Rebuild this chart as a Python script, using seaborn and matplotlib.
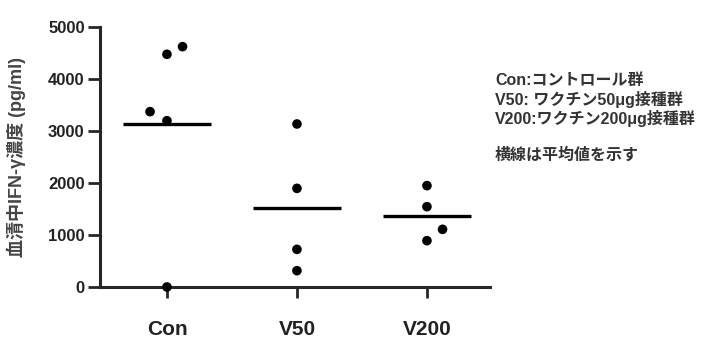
import pandas as pd
import matplotlib
matplotlib.use('Agg')
import matplotlib.pyplot as plt
import seaborn as sns

groups = ['Con', 'V50', 'V200']
con_vals = [4475, 4622, 3372, 3198, 0]
v50_vals = [3135, 1897, 724, 314]
v200_vals = [1949, 1545, 1109, 891]
# sideways spread of dots that would overlap
con_shift = [0, 0.12, -0.13, 0, 0]
v50_shift = [0, 0, 0, 0]
v200_shift = [0, 0, 0.12, 0]

yticks = [0, 1000, 2000, 3000, 4000, 5000]
ylabel = '血清中IFN-γ濃度 (pg/ml)'
notes = ['Con:コントロール群',
         'V50: ワクチン50μg接種群',
         'V200:ワクチン200μg接種群',
         '横線は平均値を示す']

rows = []
for i, (vals, shifts) in enumerate(zip([con_vals, v50_vals, v200_vals],
                                       [con_shift, v50_shift, v200_shift])):
    for v, s in zip(vals, shifts):
        rows.append({'group': groups[i], 'pos': i + s, 'value': v})
df = pd.DataFrame(rows)

sns.set_style('ticks')
plt.rcParams['font.family'] = ['Liberation Sans', 'Noto Sans CJK JP', 'DejaVu Sans']

fig = plt.figure(figsize=(7.21, 3.43), dpi=100)
ax = fig.add_axes([100/721, 56/343, 390/721, 260/343])

sns.scatterplot(data=df, x='pos', y='value', color='black', s=48,
                edgecolor='none', ax=ax, clip_on=False, zorder=3)

means = df.groupby('group', sort=False)['value'].mean()
for i, g in enumerate(groups):
    ax.hlines(means[g], i - 0.34, i + 0.34, color='black', lw=2.4)

ax.set_xlim(-0.515, 2.485)
ax.set_ylim(0, 5000)
ax.set_xticks(range(len(groups)))
ax.set_xticklabels(groups, fontsize=15, fontweight='bold', color='#222222')
ax.set_yticks(yticks)
ax.set_yticklabels([str(t) for t in yticks], fontsize=12, fontweight='bold',
                   color='#222222')
ax.tick_params(axis='x', length=8, width=2, pad=16)
ax.tick_params(axis='y', length=9, width=2, pad=2)
ax.set_xlabel('')
ax.set_ylabel(ylabel, fontsize=13, fontweight='bold', color='#444444')
ax.yaxis.set_label_coords(-0.19, 0.5)
sns.despine(ax=ax)
for sp in ['left', 'bottom']:
    ax.spines[sp].set_linewidth(2.2)

for txt, yy in zip(notes, [80, 99, 118, 155]):
    fig.text(495/721, 1 - yy/343, txt, fontsize=11.5, fontweight='bold',
             color='#333333', va='center', ha='left')

fig.savefig('out.png', dpi=100)
